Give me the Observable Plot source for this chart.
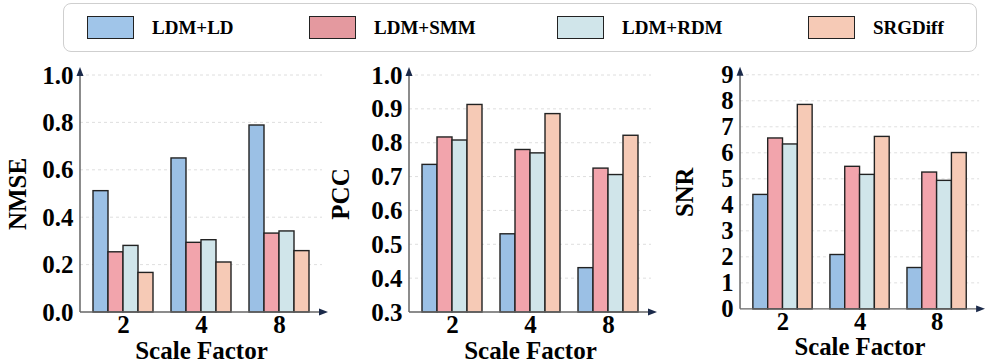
<!DOCTYPE html>
<html>
<head>
<meta charset="utf-8">
<script src="https://cdn.jsdelivr.net/npm/d3@7"></script>
<script src="https://cdn.jsdelivr.net/npm/@observablehq/plot@0.6"></script>
<style>
  html, body { margin: 0; padding: 0; background: #fff; overflow: hidden; width: 986px; height: 364px; }
  #wrap { position: relative; width: 986px; height: 364px; font-family: "Liberation Serif", "Times New Roman", serif; }
  #legend { position: absolute; left: 63px; top: 3px; width: 914px; height: 49px; border: 1.2px solid #cfcfcf; border-radius: 8px; box-sizing: border-box; }
  .item { position: absolute; top: 0; height: 47px; display: flex; align-items: center; font-weight: bold; font-size: 19px; color: #000; }
  .sw { width: 47px; height: 23px; border: 1.5px solid #222; box-sizing: border-box; margin-right: 18px; }
  .panel { position: absolute; top: 55px; }
  .panel svg text { font-family: "Liberation Serif", "Times New Roman", serif !important; font-size: 25px !important; font-weight: 700 !important; fill: #000; }
</style>
</head>
<body>
<div id="wrap">
  <div id="legend"></div>
</div>
<script>
// ---- data ----
const methods = ["LDM+LD", "LDM+SMM", "LDM+RDM", "SRGDiff"];
const factors = ["2", "4", "8"];

// NMSE per method, in factor order 2, 4, 8
const nmseLD  = [0.512, 0.650, 0.789];
const nmseSMM = [0.254, 0.294, 0.333];
const nmseRDM = [0.281, 0.305, 0.342];
const nmseSRG = [0.167, 0.211, 0.259];

// PCC
const pccLD  = [0.736, 0.531, 0.431];
const pccSMM = [0.817, 0.780, 0.725];
const pccRDM = [0.808, 0.770, 0.706];
const pccSRG = [0.913, 0.886, 0.822];

// SNR
const snrLD  = [4.40, 2.09, 1.59];
const snrSMM = [6.57, 5.48, 5.26];
const snrRDM = [6.34, 5.17, 4.94];
const snrSRG = [7.86, 6.63, 6.01];

const nmseTicks = [0.0, 0.2, 0.4, 0.6, 0.8, 1.0];
const pccTicks  = [0.3, 0.4, 0.5, 0.6, 0.7, 0.8, 0.9, 1.0];
const snrTicks  = [0, 1, 2, 3, 4, 5, 6, 7, 8, 9];

const barColors    = ["#9bc0e5", "#f2a4ac", "#d0e5ea", "#f6cab6"];
const legendColors = ["#a0c5e9", "#e4999f", "#d0e5ea", "#f6cab6"];

// ---- legend ----
const legendLefts = [23, 245, 493, 744];
const legend = d3.select("#legend");
methods.forEach((m, i) => {
  const it = legend.append("div").attr("class", "item").style("left", legendLefts[i] + "px");
  it.append("div").attr("class", "sw").style("background", legendColors[i]);
  it.append("span").text(m);
});

function rows(series) {
  const out = [];
  factors.forEach((f, fi) => methods.forEach((m, mi) => out.push({factor: f, method: m, value: series[mi][fi]})));
  return out;
}

const panels = [
  {left: 0, label: "NMSE", domain: [0, 1], ticks: nmseTicks, fmt: ".1f", data: rows([nmseLD, nmseSMM, nmseRDM, nmseSRG]), labelOffset: 76},
  {left: 329, label: "PCC", domain: [0.3, 1], ticks: pccTicks, fmt: ".1f", data: rows([pccLD, pccSMM, pccRDM, pccSRG]), labelOffset: 82},
  {left: 661, label: "SNR", domain: [0, 9], ticks: snrTicks, fmt: "d", data: rows([snrLD, snrSMM, snrRDM, snrSRG]), labelOffset: 70}
];

const W = 329, H = 309, ML = 84, MR = 11, MT = 20, MB = 52;

panels.forEach(p => {
  const base = p.domain[0];
  const chart = Plot.plot({
    width: W, height: H,
    marginLeft: ML, marginRight: MR, marginTop: MT, marginBottom: MB,
    style: {fontFamily: "'Liberation Serif', 'Times New Roman', serif", fontWeight: "bold", fontSize: "25px", color: "#000", background: "transparent", overflow: "visible"},
    fx: {domain: factors, padding: 0, axis: "bottom", tickSize: 0, tickPadding: 3, label: "Scale Factor", labelAnchor: "center", labelOffset: 46},
    x: {domain: methods, axis: null, paddingInner: 0, paddingOuter: 0.476},
    y: {domain: p.domain, ticks: p.ticks, tickFormat: d3.format(p.fmt), tickSize: 0, tickPadding: 11, label: p.label, labelAnchor: "center", labelArrow: "none", labelOffset: p.labelOffset},
    color: {domain: methods, range: barColors},
    marks: [
      Plot.barY(p.data, {fx: "factor", x: "method", y1: () => base, y2: "value", fill: "method", stroke: "#222", strokeWidth: 1.4})
    ]
  });
  const div = d3.select("#wrap").append("div").attr("class", "panel").style("left", p.left + "px");
  div.node().appendChild(chart);

  // axis decorations drawn from the library's scales
  const y = chart.scale("y");
  const svg = d3.select(chart);
  const x0 = ML - 4, x1 = W - MR + 8;
  const yb = y.apply(base), yt = y.apply(p.domain[1]);
  const g = svg.insert("g", ":first-child").attr("class", "grid");
  p.ticks.slice(1).forEach(t => {
    g.append("line").attr("x1", x0).attr("x2", W - MR + 4).attr("y1", y.apply(t)).attr("y2", y.apply(t))
      .attr("stroke", "#d6d6d6").attr("stroke-width", 0.8).attr("stroke-dasharray", "3,3");
  });
  const ax = svg.append("g").attr("class", "axes");
  ax.append("line").attr("x1", x0).attr("x2", x0).attr("y1", yb).attr("y2", yt - 4).attr("stroke", "#666").attr("stroke-width", 1.5);
  ax.append("line").attr("x1", x0).attr("x2", x1 - 6).attr("y1", yb).attr("y2", yb).attr("stroke", "#666").attr("stroke-width", 1.5);
  ax.append("path").attr("d", `M${x0},${yt - 8} L${x0 - 3.5},${yt + 1} L${x0 + 3.5},${yt + 1} Z`).attr("fill", "#1b2a4a");
  ax.append("path").attr("d", `M${x1 + 2},${yb} L${x1 - 7},${yb - 3.5} L${x1 - 7},${yb + 3.5} Z`).attr("fill", "#1b2a4a");
});
</script>
</body>
</html>
